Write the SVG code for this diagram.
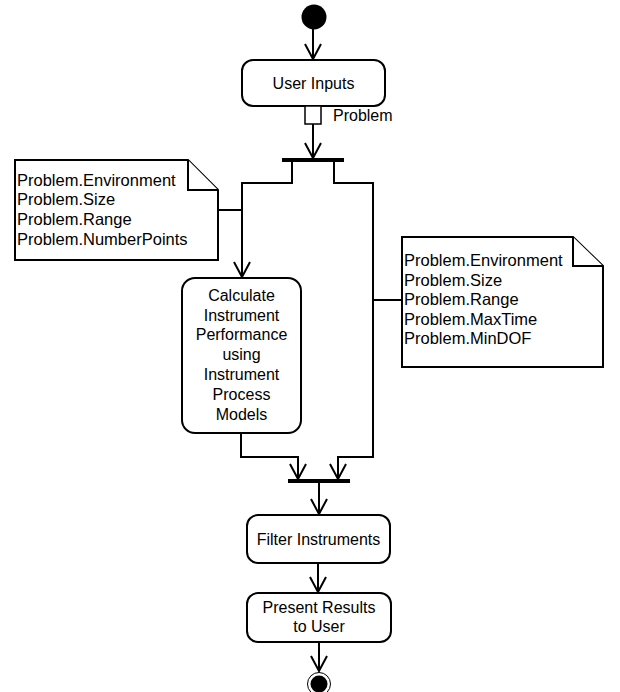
<svg xmlns="http://www.w3.org/2000/svg" width="620" height="692" viewBox="0 0 620 692">
<style>
  .box{fill:#fff;stroke:#000;stroke-width:2}
  .note{fill:#fff;stroke:#000;stroke-width:2;stroke-linejoin:miter}
  .t{font-family:"Liberation Sans",Arial,sans-serif;font-size:16px;fill:#000}
  .nt{font-family:"Liberation Sans",Arial,sans-serif;font-size:16.5px;fill:#000}
  .c{text-anchor:middle}
  .ln{fill:none;stroke:#000;stroke-width:2}
  .bar{fill:#000}
</style>
<defs>
  <marker id="arr" markerUnits="userSpaceOnUse" markerWidth="18" markerHeight="18" viewBox="0 0 18 18" refX="16" refY="9" orient="auto">
    <path d="M1,1 L16,9 L1,17" fill="none" stroke="#000" stroke-width="2"/>
  </marker>
</defs>
<rect width="620" height="692" fill="#fff"/>

<g id="connectors">
  <line class="ln" x1="313" y1="29" x2="313" y2="59" marker-end="url(#arr)"/>
  <line class="ln" x1="313" y1="124" x2="313" y2="158" marker-end="url(#arr)"/>
  <polyline class="ln" points="292,162 292,183 242,183 242,277" marker-end="url(#arr)"/>
  <polyline class="ln" points="334,162 334,183 373,183 373,457 338,457 338,479" marker-end="url(#arr)"/>
  <polyline class="ln" points="241,433 241,457 298,457 298,479" marker-end="url(#arr)"/>
  <line class="ln" x1="319" y1="483" x2="319" y2="514" marker-end="url(#arr)"/>
  <line class="ln" x1="318" y1="563" x2="318" y2="592" marker-end="url(#arr)"/>
  <line class="ln" x1="319" y1="642" x2="319" y2="671" marker-end="url(#arr)"/>
  <line class="ln" x1="218" y1="210" x2="242" y2="210"/>
  <line class="ln" x1="373" y1="300" x2="402" y2="300"/>
</g>

<g id="start">
  <circle cx="314" cy="17" r="12.5" fill="#000"/>
</g>

<g id="user-inputs">
  <rect class="box" x="242" y="60" width="143" height="46" rx="11"/>
  <text class="t c" x="313.5" y="89">User Inputs</text>
</g>

<g id="pin-problem">
  <rect x="305" y="106" width="16" height="18" fill="#fff" stroke="#000" stroke-width="1.5"/>
  <text class="t" x="333" y="121">Problem</text>
</g>

<g id="fork">
  <rect class="bar" x="282" y="158" width="62" height="4"/>
</g>

<g id="note-left">
  <path class="note" d="M15,160 H188 L218,190 V260 H15 Z"/>
  <path class="note" d="M188,160 V190 H218" fill="none"/>
  <text class="nt" x="17" y="186">Problem.Environment</text>
  <text class="nt" x="17" y="205">Problem.Size</text>
  <text class="nt" x="17" y="225">Problem.Range</text>
  <text class="nt" x="17" y="245">Problem.NumberPoints</text>
</g>

<g id="note-right">
  <path class="note" d="M402,237 H573 L603,266 V367 H402 Z"/>
  <path class="note" d="M573,237 V266 H603" fill="none"/>
  <text class="nt" x="404" y="266">Problem.Environment</text>
  <text class="nt" x="404" y="286">Problem.Size</text>
  <text class="nt" x="404" y="305">Problem.Range</text>
  <text class="nt" x="404" y="325">Problem.MaxTime</text>
  <text class="nt" x="404" y="344">Problem.MinDOF</text>
</g>

<g id="calculate">
  <rect class="box" x="182" y="278" width="119" height="155" rx="13"/>
  <text class="t c" x="241.5" y="301">Calculate</text>
  <text class="t c" x="241.5" y="321">Instrument</text>
  <text class="t c" x="241.5" y="340">Performance</text>
  <text class="t c" x="241.5" y="360">using</text>
  <text class="t c" x="241.5" y="380">Instrument</text>
  <text class="t c" x="241.5" y="400">Process</text>
  <text class="t c" x="241.5" y="420">Models</text>
</g>

<g id="join">
  <rect class="bar" x="288" y="479" width="62" height="4"/>
</g>

<g id="filter">
  <rect class="box" x="247" y="515" width="143" height="48" rx="11"/>
  <text class="t c" x="318.5" y="545">Filter Instruments</text>
</g>

<g id="present">
  <rect class="box" x="247" y="593" width="144" height="49" rx="11"/>
  <text class="t c" x="319" y="613">Present Results</text>
  <text class="t c" x="319" y="632">to User</text>
</g>

<g id="end">
  <circle cx="319" cy="684" r="11.5" fill="#fff" stroke="#000" stroke-width="1"/>
  <circle cx="319" cy="684" r="8.5" fill="#000"/>
</g>
</svg>
